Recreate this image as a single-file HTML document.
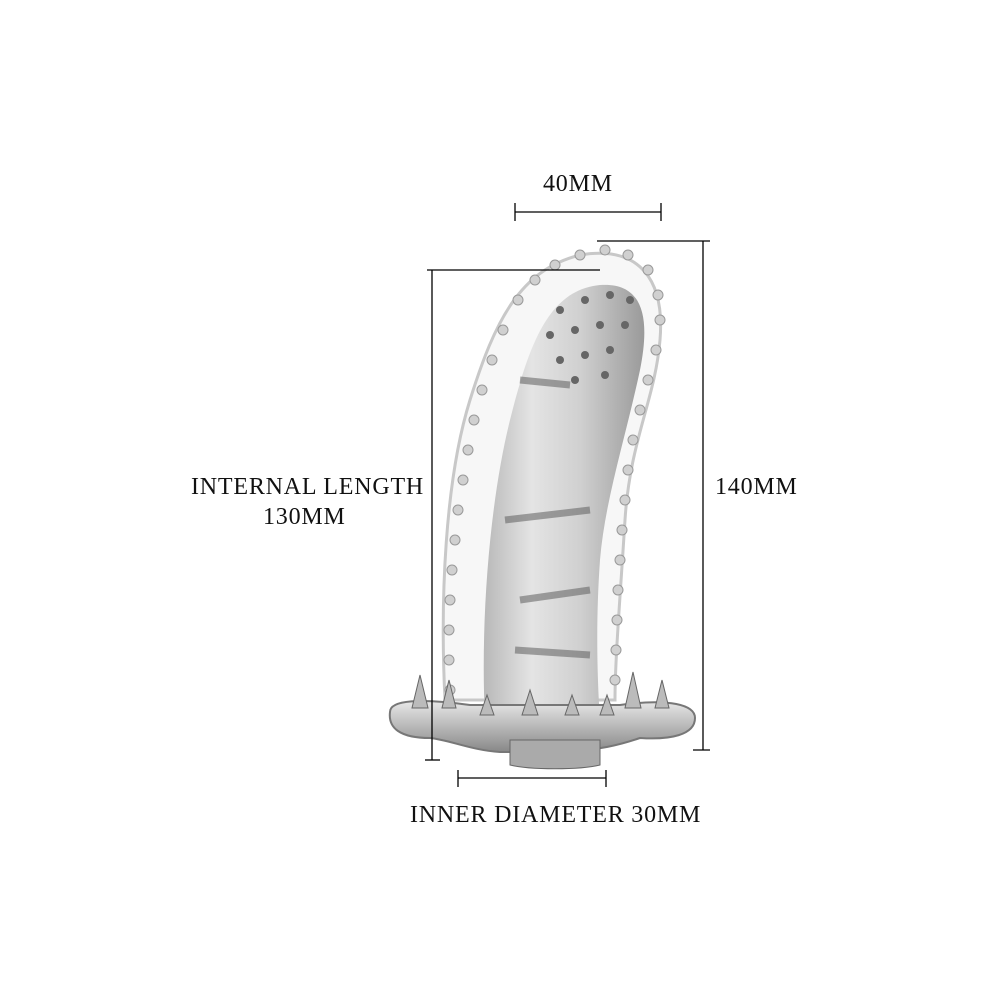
<!DOCTYPE html>
<html><head><meta charset="utf-8"><style>
html,body{margin:0;padding:0;background:#fff;}
.t{position:absolute;font-family:"Liberation Serif",serif;font-size:24px;color:#111;letter-spacing:0.8px;white-space:nowrap;}
</style></head><body>
<div style="position:relative;width:1000px;height:1000px;overflow:hidden;">
<svg width="1000" height="1000" style="position:absolute;left:0;top:0">
<defs>
<linearGradient id="g1" x1="0" x2="1" y1="0" y2="0">
<stop offset="0" stop-color="#b8b8b8"/><stop offset="0.3" stop-color="#e4e4e4"/><stop offset="0.6" stop-color="#d0d0d0"/><stop offset="1" stop-color="#9a9a9a"/>
</linearGradient>
<linearGradient id="g2" x1="0" x2="0" y1="0" y2="1">
<stop offset="0" stop-color="#e8e8e8"/><stop offset="1" stop-color="#888"/>
</linearGradient>
</defs>
<path d="M445,700 C440,600 445,480 470,400 C495,320 520,270 580,255 C640,245 665,280 660,340 C655,400 630,440 625,520 C620,600 615,660 615,700 Z" fill="#f7f7f7" stroke="#c8c8c8" stroke-width="3"/>
<path d="M485,720 C480,620 490,500 510,420 C530,340 550,290 600,285 C645,282 650,320 640,370 C625,440 605,500 600,560 C595,630 598,690 600,720 Z" fill="url(#g1)"/>
<path d="M520,380 L570,385 M505,520 L590,510 M520,600 L590,590 M515,650 L590,655" stroke="#555" stroke-width="7" opacity="0.5"/>
<g fill="#d0d0d0" stroke="#999" stroke-width="1">
<circle cx="450" cy="690" r="5"/><circle cx="449" cy="660" r="5"/><circle cx="449" cy="630" r="5"/><circle cx="450" cy="600" r="5"/><circle cx="452" cy="570" r="5"/><circle cx="455" cy="540" r="5"/><circle cx="458" cy="510" r="5"/><circle cx="463" cy="480" r="5"/><circle cx="468" cy="450" r="5"/><circle cx="474" cy="420" r="5"/><circle cx="482" cy="390" r="5"/><circle cx="492" cy="360" r="5"/><circle cx="503" cy="330" r="5"/><circle cx="518" cy="300" r="5"/><circle cx="535" cy="280" r="5"/><circle cx="555" cy="265" r="5"/><circle cx="580" cy="255" r="5"/><circle cx="605" cy="250" r="5"/><circle cx="628" cy="255" r="5"/><circle cx="648" cy="270" r="5"/><circle cx="658" cy="295" r="5"/><circle cx="660" cy="320" r="5"/><circle cx="656" cy="350" r="5"/><circle cx="648" cy="380" r="5"/><circle cx="640" cy="410" r="5"/><circle cx="633" cy="440" r="5"/><circle cx="628" cy="470" r="5"/><circle cx="625" cy="500" r="5"/><circle cx="622" cy="530" r="5"/><circle cx="620" cy="560" r="5"/><circle cx="618" cy="590" r="5"/><circle cx="617" cy="620" r="5"/><circle cx="616" cy="650" r="5"/><circle cx="615" cy="680" r="5"/>
</g>
<g fill="#666">
<circle cx="560" cy="310" r="4"/><circle cx="585" cy="300" r="4"/><circle cx="610" cy="295" r="4"/><circle cx="630" cy="300" r="4"/><circle cx="550" cy="335" r="4"/><circle cx="575" cy="330" r="4"/><circle cx="600" cy="325" r="4"/><circle cx="625" cy="325" r="4"/><circle cx="560" cy="360" r="4"/><circle cx="585" cy="355" r="4"/><circle cx="610" cy="350" r="4"/><circle cx="575" cy="380" r="4"/><circle cx="605" cy="375" r="4"/>
</g>
<path d="M390,712 C390,700 420,698 470,705 L620,705 C670,698 695,705 695,718 C695,735 670,740 640,738 C620,745 600,750 560,752 L500,752 C470,750 450,740 430,738 C400,738 388,728 390,712 Z" fill="url(#g2)" stroke="#777" stroke-width="2"/>
<path d="M510,740 L600,740 L600,765 C580,770 530,770 510,765 Z" fill="#aaa" stroke="#666"/>
<g fill="#bbb" stroke="#666">
<path d="M412,708 L420,675 L428,708 Z"/><path d="M442,708 L449,680 L456,708 Z"/><path d="M480,715 L487,695 L494,715 Z"/><path d="M522,715 L530,690 L538,715 Z"/><path d="M565,715 L572,695 L579,715 Z"/><path d="M600,715 L607,695 L614,715 Z"/><path d="M625,708 L633,672 L641,708 Z"/><path d="M655,708 L662,680 L669,708 Z"/>
</g>
<g stroke="#000" stroke-width="1.3" fill="none">
<line x1="515" y1="212" x2="661" y2="212"/><line x1="515" y1="203" x2="515" y2="221"/><line x1="661" y1="203" x2="661" y2="221"/>
<line x1="432" y1="270" x2="432" y2="760"/><line x1="427" y1="270" x2="600" y2="270"/><line x1="425" y1="760" x2="440" y2="760"/>
<line x1="703" y1="241" x2="703" y2="750"/><line x1="597" y1="241" x2="710" y2="241"/><line x1="693" y1="750" x2="710" y2="750"/>
<line x1="458" y1="778" x2="606" y2="778"/><line x1="458" y1="770" x2="458" y2="787"/><line x1="606" y1="770" x2="606" y2="787"/>
</g>
</svg>
<div class="t" style="left:543px;top:171px;">40MM</div>
<div class="t" style="left:191px;top:474px;">INTERNAL LENGTH</div>
<div class="t" style="left:263px;top:504px;">130MM</div>
<div class="t" style="left:715px;top:474px;">140MM</div>
<div class="t" style="left:410px;top:802px;">INNER DIAMETER 30MM</div>
</div>
</body></html>
